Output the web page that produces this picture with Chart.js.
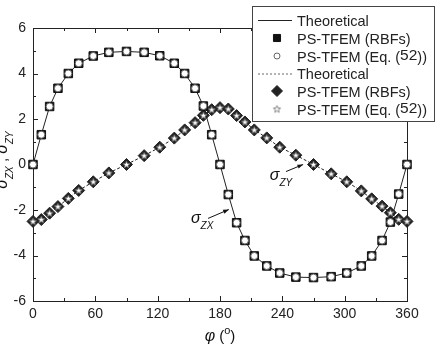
<!DOCTYPE html>
<html>
<head>
<meta charset="utf-8">
<script src="https://cdn.jsdelivr.net/npm/chart.js@4.4.0/dist/chart.umd.min.js"></script>
<style>
  html, body { margin: 0; padding: 0; background: #fff; }
  #wrap { width: 438px; height: 348px; }
</style>
</head>
<body>
<div id="wrap"><canvas id="chart" width="438" height="348"></canvas></div>
<script>
// angle phi (deg) and the two stress components
const phi = [0, 8, 16, 24, 34, 44, 58, 73, 90, 107, 122, 136, 146, 156, 164, 172, 180,
             188, 196, 204, 213, 225, 237.5, 253, 270, 287, 302, 316, 326, 336, 344, 352, 360];
const sigmaZX = [0, 1.31, 2.55, 3.35, 4.0, 4.45, 4.77, 4.93, 4.97, 4.93, 4.78, 4.45, 4.0, 3.35, 2.57, 1.31, 0,
                 -1.32, -2.56, -3.34, -4.02, -4.46, -4.77, -4.95, -4.97, -4.93, -4.77, -4.46, -4.02, -3.34, -2.53, -1.30, 0];
const sigmaZY = [-2.5, -2.42, -2.14, -1.85, -1.49, -1.14, -0.76, -0.37, 0, 0.39, 0.76, 1.16, 1.52, 1.84, 2.16, 2.41, 2.5,
                 2.44, 2.15, 1.87, 1.52, 1.17, 0.76, 0.41, 0, -0.41, -0.76, -1.16, -1.51, -1.83, -2.12, -2.41, -2.5];
const xTicks = [0, 60, 120, 180, 240, 300, 360];
const yTicks = [-6, -4, -2, 0, 2, 4, 6];
const legendLabels = ['Theoretical', 'PS-TFEM (RBFs)', 'PS-TFEM (Eq. (52))',
                      'Theoretical', 'PS-TFEM (RBFs)', 'PS-TFEM (Eq. (52))'];

const FONT = "'Liberation Sans', Arial, sans-serif";
Chart.defaults.font.family = FONT;
Chart.defaults.color = '#222';

const pts = ys => phi.map((p, i) => ({ x: p, y: ys[i] }));

// small white star marker
const starImg = (() => {
    const c = document.createElement('canvas'); c.width = 11; c.height = 11;
    const g = c.getContext('2d');
    g.beginPath();
    for (let i = 0; i < 10; i++) {
        const r = i % 2 ? 1.6 : 3.8;
        const a = -Math.PI / 2 + i * Math.PI / 5;
        g.lineTo(5.5 + r * Math.cos(a), 5.8 + r * Math.sin(a));
    }
    g.closePath();
    g.fillStyle = '#fff'; g.fill();
    g.strokeStyle = '#666'; g.lineWidth = 0.8; g.stroke();
    return c;
})();

const markers = {
    square: { pointStyle: 'rect', radius: 6, backgroundColor: '#111', borderColor: '#111', borderWidth: 1 },
    circle: { pointStyle: 'circle', radius: 3.5, backgroundColor: '#fff', borderColor: '#666', borderWidth: 1 },
    diamond: { pointStyle: 'rectRot', radius: 6, backgroundColor: '#222', borderColor: '#222', borderWidth: 1 },
    star: { pointStyle: starImg, radius: 4, backgroundColor: '#fff', borderColor: '#666', borderWidth: 1 }
};

function lineSet(label, ys, dash, order) {
    return { label, data: pts(ys), borderColor: '#222', borderWidth: 1, borderDash: dash,
             pointRadius: 0, fill: false, tension: 0, order, clip: false };
}
function markSet(label, ys, m, order) {
    return { label, data: pts(ys), showLine: false, order, clip: false,
             pointStyle: m.pointStyle, pointRadius: m.radius, pointHoverRadius: m.radius,
             pointBackgroundColor: m.backgroundColor, pointBorderColor: m.borderColor,
             pointBorderWidth: m.borderWidth };
}

function richText(ctx, parts, x, y, align) {
    let w = 0;
    parts.forEach(p => { ctx.font = p.font; p.w = ctx.measureText(p.t).width; w += p.w; });
    let cx = align === 'center' ? x - w / 2 : x;
    ctx.textAlign = 'left'; ctx.textBaseline = 'alphabetic';
    parts.forEach(p => { ctx.font = p.font; ctx.fillText(p.t, cx, y + (p.dy || 0)); cx += p.w; });
}

function sigmaLabel(sub) {
    return [{ t: 'σ', font: 'italic 16px ' + FONT }, { t: sub, font: 'italic 10px ' + FONT, dy: 6 }];
}

function arrow(ctx, x1, y1, x2, y2) {
    ctx.beginPath(); ctx.moveTo(x1, y1); ctx.lineTo(x2, y2);
    ctx.strokeStyle = '#111'; ctx.lineWidth = 1; ctx.stroke();
    const a = Math.atan2(y2 - y1, x2 - x1);
    ctx.beginPath();
    ctx.moveTo(x2, y2);
    ctx.lineTo(x2 - 6 * Math.cos(a - 0.35), y2 - 6 * Math.sin(a - 0.35));
    ctx.lineTo(x2 - 6 * Math.cos(a + 0.35), y2 - 6 * Math.sin(a + 0.35));
    ctx.closePath(); ctx.fillStyle = '#111'; ctx.fill();
}

const frameTicks = {
    id: 'frameTicks',
    beforeDatasetsDraw(chart) {
        const { ctx, chartArea: a, scales: { x, y } } = chart;
        ctx.save();
        ctx.strokeStyle = '#222'; ctx.lineWidth = 1;
        ctx.strokeRect(a.left + 0.5, a.top + 0.5, a.right - a.left, a.bottom - a.top);
        ctx.beginPath();
        for (let v = 0; v <= 360; v += 30) {
            const px = Math.round(x.getPixelForValue(v)) + 0.5;
            const len = v % 60 === 0 ? 5 : 3;
            ctx.moveTo(px, a.bottom); ctx.lineTo(px, a.bottom - len);
            ctx.moveTo(px, a.top); ctx.lineTo(px, a.top + len);
        }
        for (let v = -6; v <= 6; v += 1) {
            const py = Math.round(y.getPixelForValue(v)) + 0.5;
            const len = v % 2 === 0 ? 5 : 3;
            ctx.moveTo(a.left, py); ctx.lineTo(a.left + len, py);
            ctx.moveTo(a.right, py); ctx.lineTo(a.right - len, py);
        }
        ctx.stroke();
        ctx.restore();
    },
    afterDraw(chart) {
        const { ctx, chartArea: a, scales: { x, y } } = chart;
        ctx.save();
        ctx.fillStyle = '#111';

        // axis titles
        richText(ctx, [{ t: 'φ', font: 'italic 16px ' + FONT }, { t: ' (', font: '15px ' + FONT },
                       { t: 'o', font: '11px ' + FONT, dy: -7 }, { t: ')', font: '15px ' + FONT }],
                 (a.left + a.right) / 2, 341, 'center');
        ctx.save();
        ctx.translate(7, 160); ctx.rotate(-Math.PI / 2);
        richText(ctx, [...sigmaLabel('ZX'), { t: ' , ', font: '15px ' + FONT }, ...sigmaLabel('ZY')], 0, 0, 'center');
        ctx.restore();

        // curve annotations
        richText(ctx, sigmaLabel('ZY'), x.getPixelForValue(228), y.getPixelForValue(-0.66), 'left');
        arrow(ctx, x.getPixelForValue(243.5), y.getPixelForValue(-0.31), x.getPixelForValue(260), y.getPixelForValue(0));
        richText(ctx, sigmaLabel('ZX'), x.getPixelForValue(152), y.getPixelForValue(-2.55), 'left');
        arrow(ctx, x.getPixelForValue(168.5), y.getPixelForValue(-2.37), x.getPixelForValue(188.5), y.getPixelForValue(-1.98));

        // legend box
        const L = { x: 252.5, y: 6.5, w: 182, h: 115 };
        ctx.fillStyle = '#fff'; ctx.fillRect(L.x, L.y, L.w, L.h);
        ctx.strokeStyle = '#444'; ctx.lineWidth = 1; ctx.strokeRect(L.x, L.y, L.w, L.h);
        const rows = [20, 38, 56, 73.5, 91, 109];
        const syms = ['line', markers.square, markers.circle, 'dash', markers.diamond, 'star'];
        rows.forEach((ry, i) => {
            const s = syms[i];
            if (s === 'line' || s === 'dash') {
                ctx.beginPath(); ctx.setLineDash(s === 'dash' ? [2, 2] : []);
                ctx.moveTo(258, ry + 0.5); ctx.lineTo(292, ry + 0.5);
                ctx.strokeStyle = s === 'dash' ? '#666' : '#222'; ctx.stroke();
                ctx.setLineDash([]);
            } else if (s === 'star') {
                Chart.helpers.drawPoint(ctx, { pointStyle: starImg, radius: 4, rotation: 0 }, 277, ry);
            } else {
                ctx.fillStyle = s.backgroundColor; ctx.strokeStyle = s.borderColor; ctx.lineWidth = s.borderWidth;
                Chart.helpers.drawPoint(ctx, { pointStyle: s.pointStyle, radius: s === markers.square ? 5 : s.radius - 0.5, borderWidth: s.borderWidth, rotation: 0 }, 277, ry);
            }
            ctx.fillStyle = '#222';
            const label = legendLabels[i];
            const k = label.indexOf('52');
            if (k >= 0) {
                richText(ctx, [{ t: label.slice(0, k), font: '14.5px ' + FONT },
                               { t: '52', font: '15.5px ' + FONT, dy: -2 },
                               { t: label.slice(k + 2), font: '14.5px ' + FONT }], 297, ry + 5.5, 'left');
            } else {
                richText(ctx, [{ t: label, font: '14.5px ' + FONT }], 297, ry + 5.5, 'left');
            }
        });
        ctx.restore();
    }
};

new Chart(document.getElementById('chart'), {
    type: 'line',
    data: {
        datasets: [
            lineSet(legendLabels[0], sigmaZX, [], 10),
            markSet(legendLabels[1], sigmaZX, markers.square, 5),
            markSet(legendLabels[2], sigmaZX, markers.circle, 1),
            lineSet(legendLabels[3], sigmaZY, [3, 2], 10),
            markSet(legendLabels[4], sigmaZY, markers.diamond, 5),
            markSet(legendLabels[5], sigmaZY, markers.star, 1)
        ]
    },
    options: {
        responsive: false,
        animation: false,
        devicePixelRatio: 1,
        layout: { padding: { top: 28, right: 31, left: 0, bottom: 0 } },
        plugins: { legend: { display: false }, tooltip: { enabled: false } },
        scales: {
            x: {
                type: 'linear', min: 0, max: 360,
                afterBuildTicks: s => { s.ticks = xTicks.map(v => ({ value: v })); },
                afterFit: s => { s.height = 47; },
                grid: { display: false, drawTicks: false }, border: { display: false },
                ticks: { padding: 5, font: { size: 14 }, color: '#222', maxRotation: 0 }
            },
            y: {
                type: 'linear', min: -6, max: 6,
                afterBuildTicks: s => { s.ticks = yTicks.map(v => ({ value: v })); },
                afterFit: s => { s.width = 33; },
                grid: { display: false, drawTicks: false }, border: { display: false },
                ticks: { padding: 7, font: { size: 14 }, color: '#222' }
            }
        }
    },
    plugins: [frameTicks]
});
</script>
</body>
</html>
